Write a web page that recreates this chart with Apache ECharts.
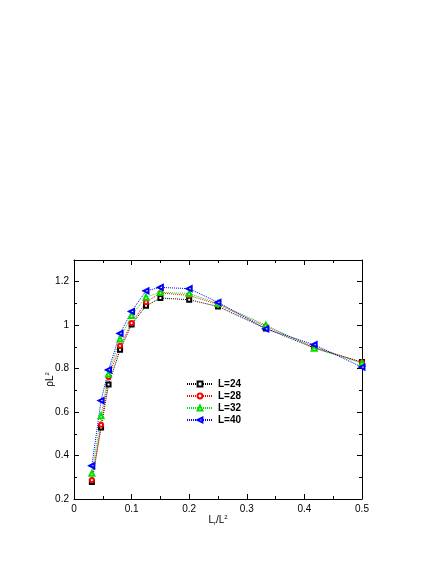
<!DOCTYPE html>
<html>
<head>
<meta charset="utf-8">
<script src="https://cdn.jsdelivr.net/npm/echarts@6/dist/echarts.min.js"></script>
<style>
  html, body { margin: 0; padding: 0; background: #fff; }
  #chart { width: 436px; height: 564px; }
</style>
</head>
<body>
<div id="chart"></div>
<script>
  // x = Lr/L^2
  var xs = [0.031, 0.047, 0.06, 0.08, 0.1, 0.125, 0.15, 0.2, 0.25, 0.333, 0.417, 0.5];
  var rhoL24 = [0.278, 0.529, 0.727, 0.887, 1.003, 1.089, 1.125, 1.117, 1.086, 0.985, 0.895, 0.830];
  var rhoL28 = [0.288, 0.542, 0.761, 0.905, 1.010, 1.106, 1.148, 1.137, 1.095, 0.995, 0.900, 0.828];
  var rhoL32 = [0.318, 0.583, 0.775, 0.936, 1.045, 1.129, 1.151, 1.146, 1.100, 1.000, 0.894, 0.825];
  var rhoL40 = [0.353, 0.653, 0.794, 0.962, 1.063, 1.158, 1.174, 1.168, 1.105, 0.983, 0.910, 0.807];
  var names = ['L=24', 'L=28', 'L=32', 'L=40'];
  var colors = ['#000000', '#ff0000', '#00e000', '#0000ff'];
  var symbols = ['emptyRect', 'emptyCircle', 'emptyTriangle', 'emptyTriangle'];

  var font = 'Liberation Sans, Arial, Helvetica, sans-serif';

  function pairs(ys) {
    return xs.map(function (x, i) { return [x, ys[i]]; });
  }
  var allY = [rhoL24, rhoL28, rhoL32, rhoL40];

  var series = allY.map(function (ys, i) {
    return {
      name: names[i],
      type: 'line',
      data: pairs(ys),
      symbol: symbols[i],
      symbolSize: i >= 2 ? 5 : 4,
      symbolRotate: i == 3 ? 90 : 0,
      lineStyle: { color: colors[i], width: 1, type: [1, 1] },
      itemStyle: { color: colors[i], borderWidth: 1 },
      animation: false
    };
  });

  var chart = echarts.init(document.getElementById('chart'));
  var option = {
    color: colors,
    grid: { left: 74, right: 74, top: 260, bottom: 65 },
    legend: {
      orient: 'vertical',
      left: 186,
      top: 379,
      padding: 0,
      itemWidth: 26,
      itemHeight: 6,
      itemGap: 2,
      textStyle: { fontFamily: font, fontSize: 10, fontWeight: 'bold', color: '#000' },
      data: names
    },
    xAxis: [{
      type: 'value', min: 0, max: 0.5, interval: 0.1,
      name: '{i|L}{s|r}{i|/L}{p|2}',
      nameLocation: 'middle', nameGap: 15, nameMoveOverlap: false,
      nameTextStyle: {
        rich: {
          i: { fontFamily: font, fontSize: 10, color: '#000' },
          s: { fontFamily: font, fontSize: 6, color: '#000', verticalAlign: 'bottom', padding: [6, 0, 0, 0] },
          p: { fontFamily: font, fontSize: 6, color: '#000', verticalAlign: 'top', padding: [0, 0, 6, 0] }
        }
      },
      axisLine: { onZero: false, lineStyle: { color: '#000', width: 1 } },
      axisTick: { inside: true, length: 5, lineStyle: { color: '#000' } },
      minorTick: { show: true, splitNumber: 2, length: 3, lineStyle: { color: '#000' } },
      axisLabel: { fontFamily: font, fontSize: 10, color: '#000', margin: 5 },
      splitLine: { show: false }
    }, {
      type: 'value', min: 0, max: 0.5, interval: 0.1, position: 'top',
      axisLine: { onZero: false, lineStyle: { color: '#000', width: 1 } },
      axisTick: { inside: true, length: 5, lineStyle: { color: '#000' } },
      minorTick: { show: true, splitNumber: 2, length: 3, lineStyle: { color: '#000' } },
      axisLabel: { show: false },
      splitLine: { show: false }
    }],
    yAxis: [{
      type: 'value', min: 0.2, max: 1.3, interval: 0.2,
      name: '{i|ρL}{p|2}',
      nameLocation: 'middle', nameGap: 18, nameRotate: 90, nameMoveOverlap: false,
      nameTextStyle: {
        rich: {
          i: { fontFamily: font, fontSize: 10, color: '#000' },
          p: { fontFamily: font, fontSize: 6, color: '#000', verticalAlign: 'top', padding: [0, 0, 6, 0] }
        }
      },
      axisLine: { onZero: false, lineStyle: { color: '#000', width: 1 } },
      axisTick: { inside: true, length: 5, lineStyle: { color: '#000' } },
      minorTick: { show: true, splitNumber: 2, length: 3, lineStyle: { color: '#000' } },
      axisLabel: {
        fontFamily: font, fontSize: 10, color: '#000', margin: 5,
        showMaxLabel: false
      },
      splitLine: { show: false }
    }, {
      type: 'value', min: 0.2, max: 1.3, interval: 0.2, position: 'right',
      axisLine: { onZero: false, lineStyle: { color: '#000', width: 1 } },
      axisTick: { inside: true, length: 5, lineStyle: { color: '#000' } },
      minorTick: { show: true, splitNumber: 2, length: 3, lineStyle: { color: '#000' } },
      axisLabel: { show: false },
      splitLine: { show: false }
    }],
    series: series
  };
  chart.setOption(option);
</script>
</body>
</html>
